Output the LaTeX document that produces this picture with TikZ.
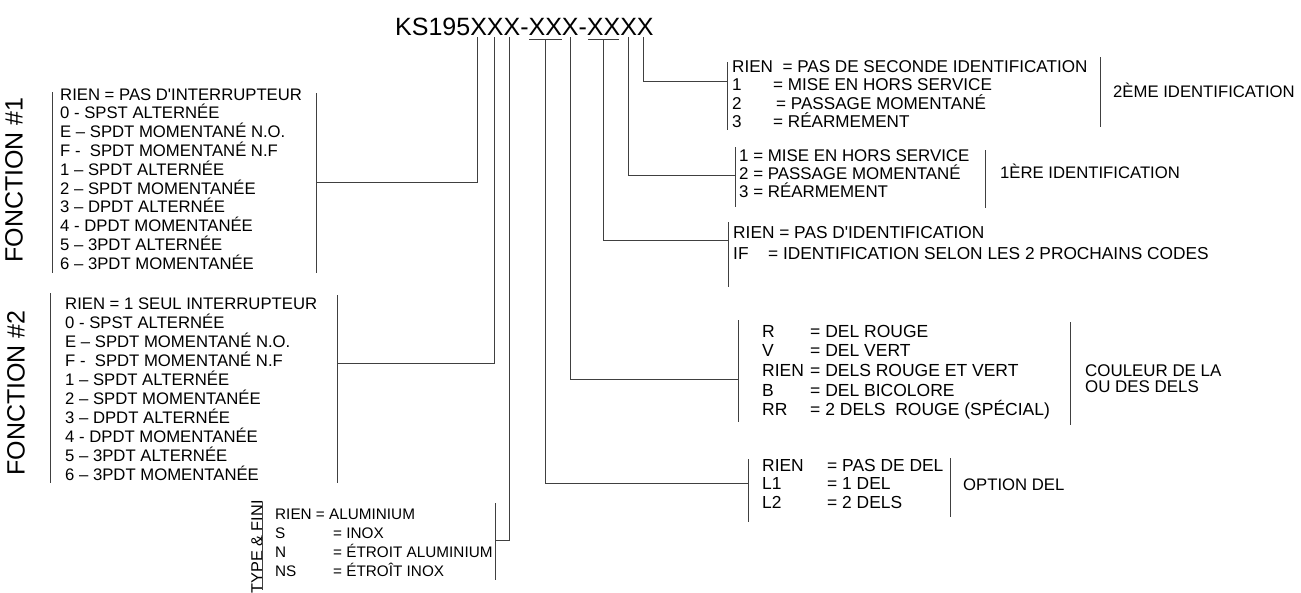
\documentclass[tikz,border=0pt]{standalone}
\usepackage{fontspec}
\newfontfamily\arial{Liberation Sans}
\newcommand\Lrow[1]{\hbox{#1}}
\newcommand\Col[2]{\makebox[#1pt][l]{#2}}
\newcommand\lstfont{\arial\fontsize{16.7}{18.8}\selectfont}
\tikzset{
  txt/.style={inner sep=0pt, anchor=base west, font=\lstfont},
  lbl/.style={inner sep=0pt, anchor=base west, font=\lstfont},
  vlbl/.style={inner sep=0pt, rotate=90, anchor=center},
  ln/.style={draw=black!75, line width=0.9pt},
}
\begin{document}
\begin{tikzpicture}[x=1pt,y=-1pt]
\useasboundingbox (0,0) rectangle (1301,592);
% title
\node[inner sep=0pt, anchor=base west, font=\arial\fontsize{25}{30}\selectfont] (title) at (395,35) {KS195XXX-XXX-XXXX};
% tick coordinates under title
\coordinate (tA) at (477,37);
\coordinate (tB) at (494,37);
\coordinate (tC) at (509,37);
\coordinate (tD) at (545.5,39);
\coordinate (tE) at (570.5,37);
\coordinate (tF) at (603,39);
\coordinate (tG) at (628.5,37);
\coordinate (tH) at (643,37);
\draw[ln] (529,39) -- (562,39);
\draw[ln] (588,39) -- (619,39);

% FONCTION #1
\node[vlbl, font=\arial\fontsize{25}{30}\selectfont] (fc1) at (14,180) {FONCTION \#1};
\node[txt] (f1) at (60,100) {\vtop{%
\Lrow{RIEN = PAS D'INTERRUPTEUR}
\Lrow{0 - SPST ALTERNÉE}
\Lrow{E – SPDT MOMENTANÉ N.O.}
\Lrow{F -\ \ SPDT MOMENTANÉ N.F}
\Lrow{1 – SPDT ALTERNÉE}
\Lrow{2 – SPDT MOMENTANÉE}
\Lrow{3 – DPDT ALTERNÉE}
\Lrow{4 - DPDT MOMENTANÉE}
\Lrow{5 – 3PDT ALTERNÉE}
\Lrow{6 – 3PDT MOMENTANÉE}}};
\draw[ln] (52,92) -- (52,273);
\draw[ln] (316,93) -- (316,273);
\coordinate (f1r) at (316,182);

% FONCTION #2
\node[vlbl, font=\arial\fontsize{25}{30}\selectfont] (fc2) at (16,393) {FONCTION \#2};
\node[txt, font=\arial\fontsize{16.7}{19.1}\selectfont] (f2) at (65,309) {\vtop{%
\Lrow{RIEN = 1 SEUL INTERRUPTEUR}
\Lrow{0 - SPST ALTERNÉE}
\Lrow{E – SPDT MOMENTANÉ N.O.}
\Lrow{F -\ \ SPDT MOMENTANÉ N.F}
\Lrow{1 – SPDT ALTERNÉE}
\Lrow{2 – SPDT MOMENTANÉE}
\Lrow{3 – DPDT ALTERNÉE}
\Lrow{4 - DPDT MOMENTANÉE}
\Lrow{5 – 3PDT ALTERNÉE}
\Lrow{6 – 3PDT MOMENTANÉE}}};
\draw[ln] (50,293) -- (50,483);
\draw[ln] (337,295) -- (337,483);
\coordinate (f2r) at (337,363);

% TYPE & FINI
\node[vlbl, font=\arial\fontsize{16.3}{19}\selectfont] (tfl) at (257,547) {TYPE \& FINI};
\node[txt, font=\arial\fontsize{15.3}{19}\selectfont] (tf) at (275,519) {\vtop{%
\Lrow{RIEN = ALUMINIUM}
\Lrow{\Col{58}{S}= INOX}
\Lrow{\Col{58}{N}= ÉTROIT ALUMINIUM}
\Lrow{\Col{58}{NS}= ÉTROÎT INOX}}};
\draw[ln] (262,502) -- (262,590);
\draw[ln] (495,503) -- (495,580);
\coordinate (tfr) at (495,540);

% 2EME IDENTIFICATION
\node[txt, font=\arial\fontsize{17.1}{18.6}\selectfont] (id2) at (732,72) {\vtop{%
\Lrow{RIEN\ \ = PAS DE SECONDE IDENTIFICATION}
\Lrow{\Col{41}{1}= MISE EN HORS SERVICE}
\Lrow{\Col{44}{2}= PASSAGE MOMENTANÉ}
\Lrow{\Col{41}{3}= RÉARMEMENT}}};
\draw[ln] (727,62) -- (727,130);
\draw[ln] (1100,57) -- (1100,127);
\coordinate (id2l) at (727,81);
\node[lbl] (id2t) at (1113,97) {2ÈME IDENTIFICATION};

% 1ERE IDENTIFICATION
\node[txt, font=\arial\fontsize{16.9}{18.4}\selectfont] (id1) at (739,161) {\vtop{%
\Lrow{1 = MISE EN HORS SERVICE}
\Lrow{2 = PASSAGE MOMENTANÉ}
\Lrow{3 = RÉARMEMENT}}};
\draw[ln] (735,147) -- (735,207);
\draw[ln] (985,150) -- (985,208);
\coordinate (id1l) at (735,175);
\node[lbl] (id1t) at (1000,178) {1ÈRE IDENTIFICATION};

% IDENTIFICATION
\node[txt, font=\arial\fontsize{17.3}{21}\selectfont] (idn) at (733,238) {\vtop{%
\Lrow{RIEN = PAS D'IDENTIFICATION}
\Lrow{\Col{35}{IF}= IDENTIFICATION SELON LES 2 PROCHAINS CODES}}};
\draw[ln] (728,222) -- (728,287);
\coordinate (idnl) at (728,240);

% COULEUR
\node[txt, font=\arial\fontsize{17.5}{19.7}\selectfont] (col) at (762,337) {\vtop{%
\Lrow{\Col{48}{R}= DEL ROUGE}
\Lrow{\Col{48}{V}= DEL VERT}
\Lrow{\Col{48}{RIEN}= DELS ROUGE ET VERT}
\Lrow{\Col{48}{B}= DEL BICOLORE}
\Lrow{\Col{48}{RR}= 2 DELS\ \ ROUGE (SPÉCIAL)}}};
\draw[ln] (738,320) -- (738,422);
\draw[ln] (1070,322) -- (1070,425);
\coordinate (coll) at (738,379);
\node[txt, font=\arial\fontsize{16.9}{16}\selectfont] (colt) at (1085,376) {\vtop{%
\Lrow{COULEUR DE LA}
\Lrow{OU DES DELS}}};

% OPTION DEL
\node[txt, font=\arial\fontsize{17.4}{18.5}\selectfont] (opt) at (762,471) {\vtop{%
\Lrow{\Col{65}{RIEN}= PAS DE DEL}
\Lrow{\Col{65}{L1}= 1 DEL}
\Lrow{\Col{65}{L2}= 2 DELS}}};
\draw[ln] (748,459) -- (748,522);
\draw[ln] (950,458) -- (950,517);
\coordinate (optl) at (748,483);
\node[lbl] (optt) at (963,490) {OPTION DEL};

% connectors
\draw[ln] (tA) |- (f1r);
\draw[ln] (tB) |- (f2r);
\draw[ln] (tC) |- (tfr);
\draw[ln] (tD) |- (optl);
\draw[ln] (tE) |- (coll);
\draw[ln] (tF) |- (idnl);
\draw[ln] (tG) |- (id1l);
\draw[ln] (tH) |- (id2l);
\end{tikzpicture}
\end{document}
